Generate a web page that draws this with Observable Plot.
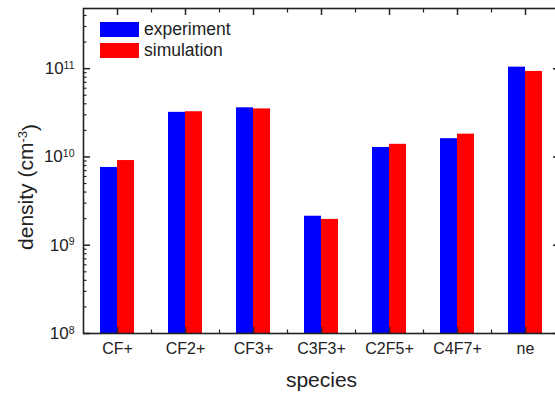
<!DOCTYPE html>
<html><head><meta charset="utf-8">
<script src="https://cdn.jsdelivr.net/npm/d3@7"></script>
<script src="https://cdn.jsdelivr.net/npm/@observablehq/plot@0.6"></script>
<style>
html,body{margin:0;padding:0;background:#fff;overflow:hidden}
#wrap{position:relative;width:555px;height:394px;overflow:hidden}
#wrap svg{max-width:none !important;width:561px;height:394px}
.leg{position:absolute;left:100px;height:15px;display:flex;align-items:center;font:17.5px "Liberation Sans",Arial,sans-serif;color:#222}
.leg span{display:inline-block;width:39px;height:15px;margin-right:5px}
</style></head><body><div id="wrap"></div>
<script>
const species = ["CF+","CF2+","CF3+","C3F3+","C2F5+","C4F7+","ne"];
const experiment = [7.6e9,3.2e10,3.6e10,2.13e9,1.28e10,1.61e10,1.04e11];
const simulation = [9.1e9,3.25e10,3.5e10,1.96e9,1.39e10,1.81e10,9.3e10];
const seriesNames = ["experiment","simulation"];
const seriesColors = ["#0000ff","#ff0000"];
const majorTicks = [1e8,1e9,1e10,1e11];
const tickExponents = ["8","9","10","11"];
const yDomain = [1e8,4.8e11];
const xTitle = "species";
const yTitle = "density (cm-3)";

const minorTicks = [];
for (const d of majorTicks) for (let k = 2; k <= 9; k++) if (d*k < yDomain[1]) minorTicks.push(d*k);

const rows = species.map((s,i)=>({species:s, experiment:experiment[i], simulation:simulation[i]}));
const font = "'Liberation Sans', Arial, sans-serif";
const ax = "#222";

const chart = Plot.plot({
  width: 561, height: 394,
  marginLeft: 83, marginRight: 2, marginTop: 8, marginBottom: 61,
  style: {fontFamily: font, background: "#fff", color: ax},
  x: {type: "band", domain: species, padding: 0, axis: null},
  y: {type: "log", domain: yDomain, axis: null},
  marks: [
    Plot.barY(rows, {x: "species", y1: () => yDomain[0], y2: "experiment", fill: seriesColors[0], insetLeft: 17, insetRight: 34}),
    Plot.barY(rows, {x: "species", y1: () => yDomain[0], y2: "simulation", fill: seriesColors[1], insetLeft: 34, insetRight: 17}),
    // left axis labels (superscripts applied below)
    Plot.axisY(majorTicks, {anchor: "left", tickSize: 0, tickPadding: 9, tickFormat: d => "10^" + tickExponents[majorTicks.indexOf(d)], fontSize: 17, label: null}),
    Plot.axisY(majorTicks, {anchor: "left", tickSize: -7, tickFormat: () => "", label: null, strokeWidth: 1.5}),
    Plot.axisY(minorTicks, {anchor: "left", tickSize: -3.5, tickFormat: () => "", label: null, strokeWidth: 1.2}),
    // right axis
    Plot.axisY(majorTicks, {anchor: "right", tickSize: -7, tickFormat: () => "", label: null, strokeWidth: 1.5}),
    Plot.axisY(minorTicks, {anchor: "right", tickSize: -3.5, tickFormat: () => "", label: null, strokeWidth: 1.2}),
    // bottom axis
    Plot.axisX(species, {anchor: "bottom", tickSize: 0, tickPadding: 9, fontSize: 16, label: null}),
    Plot.axisX(species, {anchor: "bottom", tickSize: -6, tickFormat: () => "", label: null, strokeWidth: 1.5}),
    Plot.axisX(species, {anchor: "bottom", tickSize: -3.5, tickFormat: () => "", label: null, dx: 34, strokeWidth: 1.2}),
    // top axis
    Plot.axisX(species, {anchor: "top", tickSize: -6, tickFormat: () => "", label: null, strokeWidth: 1.5}),
    Plot.axisX(species, {anchor: "top", tickSize: -3.5, tickFormat: () => "", label: null, dx: 34, strokeWidth: 1.2}),
    Plot.frame({stroke: ax, strokeWidth: 1.6}),
    Plot.text([xTitle], {frameAnchor: "bottom", dy: 47, fontSize: 21, fill: ax, textAnchor: "middle", lineAnchor: "middle"}),
    Plot.text([yTitle], {frameAnchor: "left", dx: -57, dy: 16, rotate: -90, fontSize: 21, fill: ax, textAnchor: "middle", lineAnchor: "middle"})
  ]
});
const wrap = document.getElementById("wrap");
wrap.appendChild(chart);

const NS = "http://www.w3.org/2000/svg";
// turn "10^n" into 10 with a raised exponent
chart.querySelectorAll("text").forEach(t => {
  const s = t.textContent;
  const m = s.match(/^10\^(\d+)$/);
  if (m) {
    t.textContent = "10";
    const sup = document.createElementNS(NS, "tspan");
    sup.setAttribute("dy", "-0.5em");
    sup.setAttribute("font-size", "10.5");
    sup.textContent = m[1];
    t.appendChild(sup);
  } else if (s === yTitle) {
    t.textContent = "density (cm";
    const sup = document.createElementNS(NS, "tspan");
    sup.setAttribute("dy", "-0.45em");
    sup.setAttribute("font-size", "13");
    sup.textContent = "-3";
    t.appendChild(sup);
    const close = document.createElementNS(NS, "tspan");
    close.setAttribute("dy", "0.45em");
    close.textContent = ")";
    t.appendChild(close);
  }
});

const tops = [22, 43];
seriesNames.forEach((n,i) => {
  const d = document.createElement("div");
  d.className = "leg";
  d.style.top = tops[i] + "px";
  d.innerHTML = `<span style="background:${seriesColors[i]}"></span>`;
  d.appendChild(document.createTextNode(n));
  wrap.appendChild(d);
});
</script></body></html>
